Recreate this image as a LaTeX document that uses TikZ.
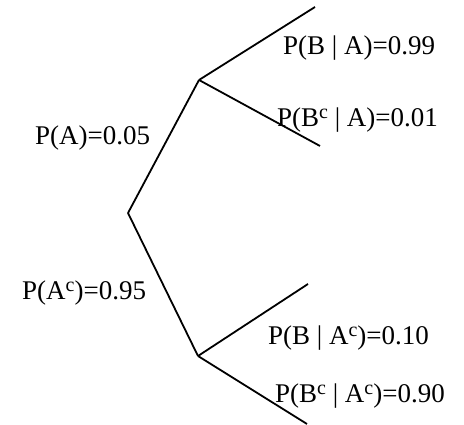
\documentclass[tikz,border=0pt]{standalone}
\usepackage{fontspec}
\setmainfont{Liberation Serif}
\newcommand{\supc}{\raisebox{0.3em}{\fontsize{20}{22}\selectfont c}}
\begin{document}
\begin{tikzpicture}[x=1pt,y=1pt,
  branch/.style={line width=1.8pt, black},
  lbl/.style={anchor=base west, inner sep=0pt, font=\fontsize{27}{32}\selectfont}]
\useasboundingbox (0,0) rectangle (464,425);
% points (pixel coords, y flipped)
\coordinate (root) at (128,212);
\coordinate (a) at (199,345);
\coordinate (ac) at (198,69);
\coordinate (ab) at (315,418);
\coordinate (abc) at (320,279);
\coordinate (acb) at (308,141);
\coordinate (acbc) at (307,1);
\draw[branch] (root) -- (a);
\draw[branch] (root) -- (ac);
\draw[branch] (a) -- (ab);
\draw[branch] (a) -- (abc);
\draw[branch] (ac) -- (acb);
\draw[branch] (ac) -- (acbc);
% labels
\node[lbl] (lab) at (283,370) {P(B | A)=0.99};
\node[lbl] (labc) at (277,298) {P(B\supc\ | A)=0.01};
\node[lbl] (la) at (35,280) {P(A)=0.05};
\node[lbl] (lac) at (22,125) {P(A\supc)=0.95};
\node[lbl] (lacb) at (268,80) {P(B | A\supc)=0.10};
\node[lbl] (lacbc) at (275,22) {P(B\supc\ | A\supc)=0.90};
\end{tikzpicture}
\end{document}
